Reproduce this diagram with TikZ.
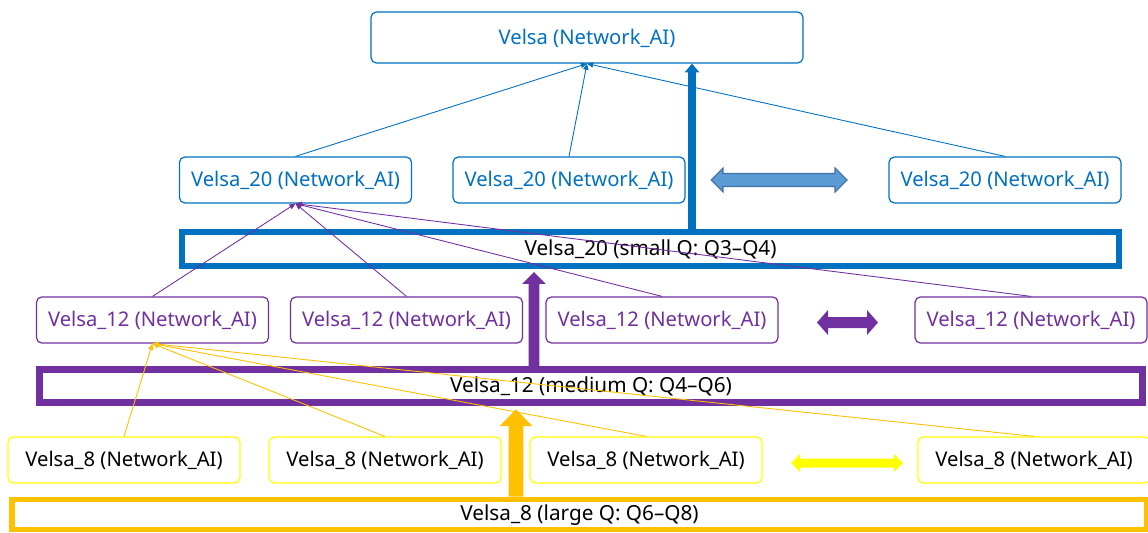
\documentclass[tikz,border=0pt]{standalone}
\usepackage{fontspec}
\setmainfont{Noto Sans}
\usetikzlibrary{arrows.meta}
\definecolor{vblue}{HTML}{0070C0}
\definecolor{vpurple}{HTML}{7030A0}
\definecolor{vorange}{HTML}{FFC000}
\definecolor{vyellow}{HTML}{FFFF00}
\definecolor{vlightblue}{HTML}{5B9BD5}
\definecolor{vblueedge}{HTML}{41719C}

\begin{document}
\begin{tikzpicture}[x=0.02cm,y=-0.02cm,
        font=\fontsize{11.5}{13}\selectfont,
        box/.style={draw,rounded corners=3pt,line width=0.7pt,minimum width=4.64cm,minimum height=0.92cm,inner sep=0pt,text height=0.95em,text depth=0.2em},
        box20/.style={box,draw=vblue,text=vblue},
        box12/.style={box,draw=vpurple,text=vpurple},
        box8/.style={box,draw=vyellow,text=black},
        bar/.style={draw,inner sep=0pt,font=\fontsize{11.8}{13}\selectfont,text height=0.9em,text depth=0.2em},
        link/.style={line width=0.5pt,-{Triangle[length=3.5pt,width=3pt]}}]
        \useasboundingbox (0,0) rectangle (1148,533);

        %top node
        \node[box20,minimum width=8.64cm,minimum height=1.02cm] (velsa) at (587,37.5) {Velsa (Network\_AI)};

        %Velsa_20 layer
        \node[box20] (v20a) at (295.5,180) {Velsa\_20 (Network\_AI)};
        \node[box20] (v20b) at (569,180) {Velsa\_20 (Network\_AI)};
        \node[box20] (v20c) at (1005,180) {Velsa\_20 (Network\_AI)};
        \node[bar,draw=vblue,line width=3.4pt,minimum width=18.74cm,minimum height=0.68cm] (q20) at (650.5,249) {Velsa\_20 (small Q: Q3–Q4)};

        %Velsa_12 layer
        \node[box12] (v12a) at (152.5,320) {Velsa\_12 (Network\_AI)};
        \node[box12] (v12b) at (406.5,320) {Velsa\_12 (Network\_AI)};
        \node[box12] (v12c) at (662,320) {Velsa\_12 (Network\_AI)};
        \node[box12] (v12d) at (1031,320) {Velsa\_12 (Network\_AI)};
        \node[bar,draw=vpurple,line width=4pt,minimum width=22.07cm,minimum height=0.65cm] (q12) at (591,386) {Velsa\_12 (medium Q: Q4–Q6)};

        %Velsa_8 layer
        \node[box8] (v8a) at (124,460) {Velsa\_8 (Network\_AI)};
        \node[box8] (v8b) at (385,460) {Velsa\_8 (Network\_AI)};
        \node[box8] (v8c) at (646,460) {Velsa\_8 (Network\_AI)};
        \node[box8] (v8d) at (1034,460) {Velsa\_8 (Network\_AI)};
        \node[bar,draw=vorange,line width=3.4pt,minimum width=22.7cm,minimum height=0.6cm] (q8) at (579.5,514.5) {Velsa\_8 (large Q: Q6–Q8)};

        %double arrows
        \filldraw[fill=vlightblue,draw=vblueedge,line width=0.6pt] (711,180) -- (723,168) -- (723,173.5) -- (835,173.5) -- (835,168) -- (847,180) -- (835,192) -- (835,186.5) -- (723,186.5) -- (723,192) -- cycle;
        \fill[vpurple] (817,322.5) -- (828,310) -- (828,317) -- (867,317) -- (867,310) -- (878,322.5) -- (867,335) -- (867,328) -- (828,328) -- (828,335) -- cycle;
        \fill[vyellow] (791,463) -- (800,454) -- (800,458.5) -- (894,458.5) -- (894,454) -- (903,463) -- (894,472) -- (894,467.5) -- (800,467.5) -- (800,472) -- cycle;

        %thick arrows
        \draw[vblue,line width=4.5pt,-{Triangle[length=5pt,width=8pt]}] ([xshift=0.83cm]q20.north) -- ([xshift=2.1cm]velsa.south);
        \draw[vpurple,line width=6.2pt,-{Triangle[length=6.8pt,width=13pt]}] ([xshift=-1.14cm]q12.north) -- ([xshift=-2.33cm,yshift=-0.06cm]q20.south);
        \draw[vorange,line width=8.5pt,-{Triangle[length=9.6pt,width=18pt]}] ([xshift=-1.27cm]q8.north) -- ([xshift=-1.5cm,yshift=-0.07cm]q12.south);

        %thin arrows
        \draw[link,vblue] (v20a.north) -- (velsa.south);
        \draw[link,vblue] (v20b.north) -- (velsa.south);
        \draw[link,vblue] (v20c.north) -- (velsa.south);
        \draw[link,vpurple] (v12a.north) -- (v20a.south);
        \draw[link,vpurple] (v12b.north) -- (v20a.south);
        \draw[link,vpurple] (v12c.north) -- (v20a.south);
        \draw[link,vpurple] (v12d.north) -- (v20a.south);
        \draw[link,vorange] (v8a.north) -- (v12a.south);
        \draw[link,vorange] (v8b.north) -- (v12a.south);
        \draw[link,vorange] (v8c.north) -- (v12a.south);
        \draw[link,vorange] (v8d.north) -- (v12a.south);
    \end{tikzpicture}
\end{document}
